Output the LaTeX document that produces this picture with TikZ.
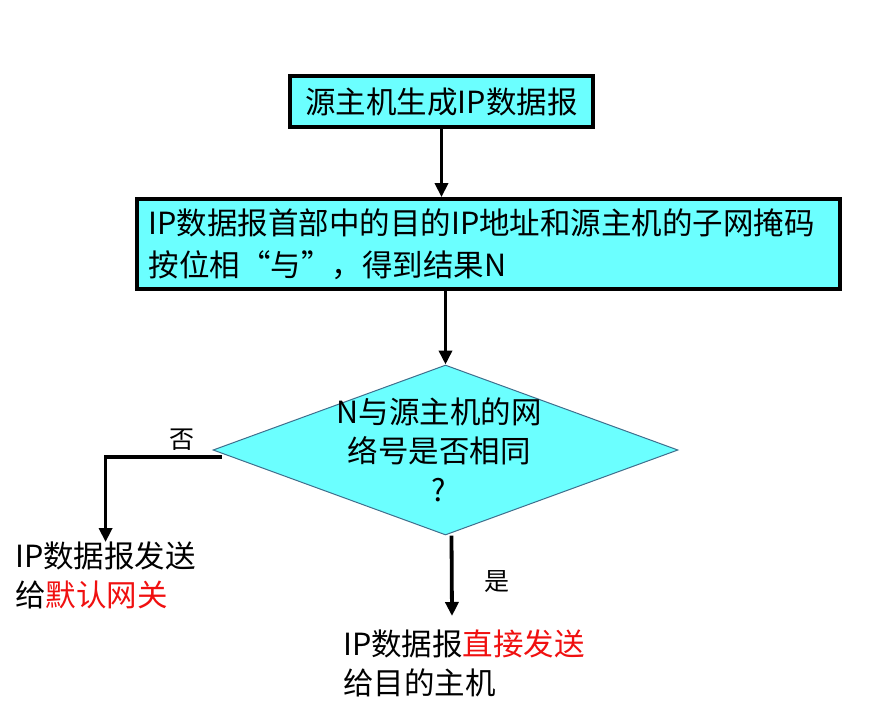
\documentclass[tikz,border=0pt]{standalone}
\usepackage{fontspec}
\setmainfont{Noto Sans CJK SC}
\usetikzlibrary{arrows.meta,shapes.geometric,calc}
\definecolor{boxcyan}{HTML}{6BFFFF}
\definecolor{diaedge}{HTML}{3F6E8C}
\definecolor{hired}{HTML}{F01010}
\begin{document}
\begin{tikzpicture}[x=1pt,y=-1pt,
  every node/.style={font=\fontsize{30.5}{39}\selectfont},
  procbox/.style={draw=black, line width=3.8pt, fill=boxcyan, inner sep=0pt},
  decbox/.style={diamond, draw=diaedge, line width=1pt, fill=boxcyan, inner sep=0pt},
  plain/.style={inner sep=0pt, align=left},
  arr/.style={line width=3.8pt, -{Triangle[width=13pt,length=14pt]}},
  lbl/.style={inner sep=0pt, font=\fontsize{25}{28}\selectfont}]
\useasboundingbox (0,0) rectangle (878,724);
\node[procbox, minimum width=303pt, minimum height=51pt] (b1) at (441.5,101.5) {源主机生成IP数据报};
\node[procbox, minimum width=703pt, minimum height=90pt, text width=680pt, align=left] (b2) at (488.5,244) {IP数据报首部中的目的IP地址和源主机的子网掩码\\[3pt]按位相“与”，得到结果N};
\node[decbox, minimum width=465pt, minimum height=170pt] (d) at (445.5,450) {};
\node[plain, align=center] (dt) at (439,450) {N与源主机的网\\络号是否相同\\?};
\node[plain, anchor=north west] (t1) at (15,542) {IP数据报发送\\给\textcolor{hired}{默认网关}};
\node[plain, anchor=north west] (t2) at (343,630) {IP数据报\textcolor{hired}{直接发送}\\给目的主机};
\coordinate (yesend) at (452,616);
\draw[arr] (b1.south) -- (b1.south |- b2.north);
\draw[arr] (d.north |- b2.south) -- (d.north);
\draw[arr] ([xshift=9pt,yshift=-7pt]d.west) -| (t1.north);
\draw[arr] ([xshift=6pt]d.south) -- (yesend);
\node[lbl] (no) at (182,440) {否};
\node[lbl] (yes) at (497,582) {是};
\end{tikzpicture}
\end{document}
